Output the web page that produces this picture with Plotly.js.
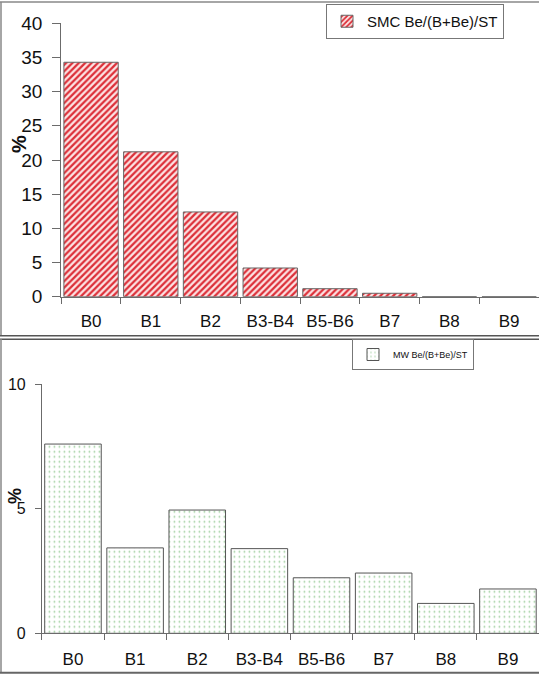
<!DOCTYPE html>
<html>
<head>
<meta charset="utf-8">
<script src="https://cdn.plot.ly/plotly-3.0.1.min.js"></script>
<style>html,body{margin:0;padding:0;background:#fff;}#chart{width:539px;height:674px;}</style>
</head>
<body>
<div id="chart"></div>
<script>
const categories = ["B0", "B1", "B2", "B3-B4", "B5-B6", "B7", "B8", "B9"];
const smcValues = [34.3, 21.2, 12.4, 4.2, 1.17, 0.5, 0, 0];
const mwValues = [7.6, 3.43, 4.95, 3.4, 2.23, 2.42, 1.2, 1.78];
const smcName = "SMC Be/(B+Be)/ST";
const mwName = "MW Be/(B+Be)/ST";
const topTicks = [0, 5, 10, 15, 20, 25, 30, 35, 40];
const bottomTicks = [0, 5, 10];

const W = 539, H = 674;
const px = x => x / W;
const py = y => 1 - y / H;
const FONT = "Arial, 'Liberation Sans', sans-serif";
const AX = "#6b6b6b";

const traces = [
  {
    type: "bar", x: categories, y: smcValues, name: smcName,
    xaxis: "x", yaxis: "y", legend: "legend",
    marker: {
      color: "#fbe3e3",
      line: {color: "#666666", width: 1},
      pattern: {shape: "/", fgcolor: "#dc2f38", bgcolor: "#fde6e6", size: 4.5, solidity: 0.5}
    }
  },
  {
    type: "bar", x: categories, y: mwValues, name: mwName,
    xaxis: "x2", yaxis: "y2", legend: "legend2",
    marker: {
      color: "#ffffff",
      line: {color: "#555555", width: 1},
      pattern: {shape: ".", fgcolor: "#9fcf9f", bgcolor: "#ffffff", size: 5, solidity: 0.1}
    }
  }
];

const xCommon = {
  type: "category", tickson: "boundaries", ticks: "outside", ticklen: 6, tickcolor: AX,
  showline: true, linecolor: AX, linewidth: 1, showgrid: false, zeroline: false,
  tickfont: {family: FONT, size: 17, color: "#111"}, fixedrange: true
};

const layout = {
  width: W, height: H,
  margin: {l: 0, r: 0, t: 0, b: 0},
  paper_bgcolor: "#ffffff", plot_bgcolor: "rgba(0,0,0,0)",
  bargap: 0.09,
  showlegend: true,
  font: {family: FONT, color: "#111"},
  xaxis: Object.assign({}, xCommon, {domain: [px(61.2), 1], anchor: "y", ticklabelstandoff: 9}),
  yaxis: {
    domain: [py(296.7), py(23.3)], anchor: "x", range: [0, 40],
    tickvals: topTicks, ticks: "outside", ticklen: 8, tickcolor: AX,
    showline: true, linecolor: AX, linewidth: 1, showgrid: false, zeroline: false,
    tickfont: {family: FONT, size: 19, color: "#111"}, ticklabelstandoff: 6
  },
  xaxis2: Object.assign({}, xCommon, {domain: [px(41.9), 1], anchor: "y2", ticklabelstandoff: 10}),
  yaxis2: {
    domain: [py(633.3), py(384.3)], anchor: "x2", range: [0, 10],
    tickvals: bottomTicks, ticks: "outside", ticklen: 6, tickcolor: AX,
    showline: true, linecolor: AX, linewidth: 1, showgrid: false, zeroline: false,
    tickfont: {family: FONT, size: 16, color: "#111"}, ticklabelstandoff: 6
  },
  legend: {
    x: px(504), y: py(4), xanchor: "right", yanchor: "top",
    bordercolor: "#777", borderwidth: 1, bgcolor: "#fff",
    font: {family: FONT, size: 15, color: "#111"}, itemwidth: 30
  },
  legend2: {
    x: px(352), y: py(339), xanchor: "left", yanchor: "top",
    bordercolor: "#777", borderwidth: 1, bgcolor: "#fff",
    font: {family: FONT, size: 9, color: "#111"}, itemwidth: 30
  },
  annotations: [
    {text: "%", xref: "paper", yref: "paper", x: px(19), y: py(144), xanchor: "center", yanchor: "middle",
     textangle: -90, showarrow: false, font: {family: FONT, size: 20, color: "#111", weight: "bold"}},
    {text: "%", xref: "paper", yref: "paper", x: px(15), y: py(496), xanchor: "center", yanchor: "middle",
     textangle: -90, showarrow: false, font: {family: FONT, size: 18, color: "#111", weight: "bold"}}
  ],
  shapes: [
    {type: "line", xref: "paper", yref: "paper", x0: 0, x1: 1, y0: py(2), y1: py(2), line: {color: "#888", width: 1.5}},
    {type: "line", xref: "paper", yref: "paper", x0: px(1), x1: px(1), y0: py(2), y1: py(336), line: {color: "#888", width: 1.5}},
    {type: "line", xref: "paper", yref: "paper", x0: 0, x1: 1, y0: py(335.7), y1: py(335.7), line: {color: "#555", width: 1.5}},
    {type: "line", xref: "paper", yref: "paper", x0: 0, x1: 1, y0: py(339.3), y1: py(339.3), line: {color: "#555", width: 1.5}},
    {type: "line", xref: "paper", yref: "paper", x0: px(1), x1: px(1), y0: py(339), y1: py(673), line: {color: "#888", width: 1.5}},
    {type: "line", xref: "paper", yref: "paper", x0: 0, x1: 1, y0: py(672.7), y1: py(672.7), line: {color: "#666", width: 2}}
  ]
};

Plotly.newPlot("chart", traces, layout, {displayModeBar: false, staticPlot: true});
</script>
</body>
</html>
